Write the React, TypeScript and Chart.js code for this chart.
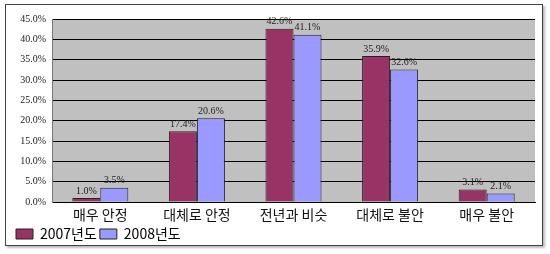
import React, { useEffect, useRef } from "react";
import { Chart, registerables } from "chart.js";

Chart.register(...registerables);

const categories = ["매우 안정", "대체로 안정", "전년과 비슷", "대체로 불안", "매우 불안"];
const series2007 = [1.0, 17.4, 42.6, 35.9, 3.1];
const series2008 = [3.5, 20.6, 41.1, 32.6, 2.1];
const seriesNames = ["2007년도", "2008년도"];

const valueLabels = {
  id: "valueLabels",
  afterDatasetsDraw(chart: any) {
    const ctx = chart.ctx;
    ctx.save();
    ctx.font = "10px 'Liberation Serif'";
    ctx.fillStyle = "#222";
    ctx.textAlign = "center";
    ctx.textBaseline = "bottom";
    chart.data.datasets.forEach((ds: any, i: number) => {
      const meta = chart.getDatasetMeta(i);
      meta.data.forEach((bar: any, j: number) => {
        ctx.fillText(ds.data[j].toFixed(1) + "%", bar.x, bar.y - 2);
      });
    });
    ctx.restore();
  },
};

const plotBg = {
  id: "plotBg",
  beforeDraw(chart: any) {
    const { ctx, chartArea } = chart;
    ctx.save();
    ctx.fillStyle = "#c0c0c0";
    ctx.fillRect(chartArea.left, chartArea.top, chartArea.right - chartArea.left, chartArea.bottom - chartArea.top);
    ctx.restore();
  },
};

export default function App() {
  const ref = useRef<HTMLCanvasElement | null>(null);
  useEffect(() => {
    if (!ref.current) return;
    const chart = new Chart(ref.current, {
      type: "bar",
      data: {
        labels: categories,
        datasets: [
          {
            label: seriesNames[0],
            data: series2007,
            backgroundColor: "#993366",
            borderColor: "#222",
            borderWidth: 1,
            barPercentage: 1,
            categoryPercentage: 0.58,
          },
          {
            label: seriesNames[1],
            data: series2008,
            backgroundColor: "#9999ff",
            borderColor: "#222",
            borderWidth: 1,
            barPercentage: 1,
            categoryPercentage: 0.58,
          },
        ],
      },
      options: {
        responsive: false,
        animation: false,
        devicePixelRatio: 1,
        layout: { padding: { left: 13, right: 15, top: 19, bottom: 3 } },
        plugins: {
          tooltip: { enabled: false },
          legend: {
            position: "bottom",
            align: "start",
            labels: {
              boxWidth: 17,
              boxHeight: 10,
              padding: 3,
              color: "#000",
              font: { family: "'Noto Sans CJK KR'", size: 14 },
            },
          },
        },
        scales: {
          x: {
            grid: { display: false, drawTicks: false },
            border: { display: true, color: "#000" },
            ticks: {
              color: "#111",
              padding: 4,
              font: { family: "'Noto Sans CJK KR'", size: 14 },
            },
            afterFit(scale: any) {
              scale.height = 22;
            },
          },
          y: {
            min: 0,
            max: 45,
            ticks: {
              stepSize: 5,
              color: "#222",
              padding: 6,
              font: { family: "'Liberation Serif'", size: 10 },
              callback: (v: any) => Number(v).toFixed(1) + "%",
            },
            grid: { color: "#000", lineWidth: 1, drawTicks: false },
            border: { display: true, color: "#777" },
            afterFit(scale: any) {
              scale.width = 39;
            },
          },
        },
      },
      plugins: [plotBg, valueLabels],
    });
    return () => chart.destroy();
  }, []);
  return (
    <div style={{ position: "absolute", left: 0, top: 0, width: 550, height: 254, background: "#fff" }}>
      <div
        style={{
          position: "absolute",
          left: 5,
          top: 4,
          width: 536,
          height: 240,
          border: "1px solid #444",
          boxShadow: "2px 2px 2px #bbb",
        }}
      />
      <canvas ref={ref} width={550} height={254} style={{ position: "absolute", left: 0, top: 0 }} />
    </div>
  );
}
